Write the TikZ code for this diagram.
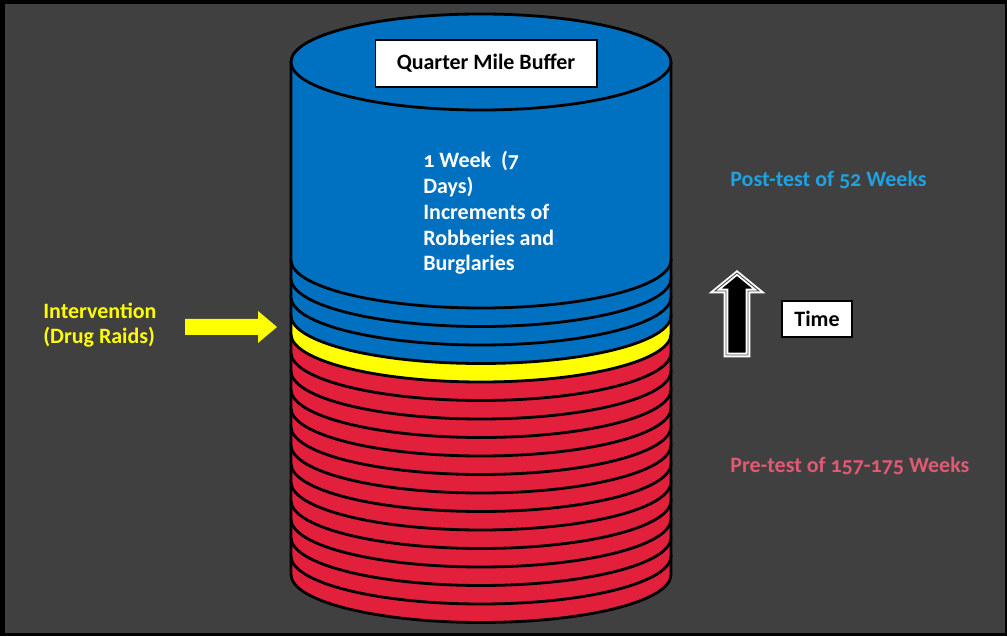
\documentclass[tikz,border=0pt]{standalone}
\usepackage{fontspec}
\setmainfont{Carlito}[Numbers=OldStyle]
\usepackage{tikz}

\definecolor{bggray}{HTML}{404040}
\definecolor{cylblue}{HTML}{0070C0}
\definecolor{cylred}{HTML}{E3203C}
\definecolor{raidyellow}{HTML}{FFFF00}
\definecolor{posttext}{HTML}{1FA2E0}
\definecolor{pretext}{HTML}{E05A73}

% one weekly slab of the stack: #1 = centre of its lower rim, #2 = colour
\newcommand{\slab}[2]{%
  \filldraw[slab, fill=#2] (291,#1+18.5) -- (291,#1)
    arc[start angle=180, end angle=360, x radius=190, y radius=48]
    -- (671,#1+18.5)
    arc[start angle=0, end angle=180, x radius=190, y radius=48] -- cycle;}

\begin{document}
\begin{tikzpicture}[x = 0.02cm, y = 0.02cm,
                    font = \bfseries\fontsize{12.5}{14.7}\selectfont,
                    slab/.style = {draw = black, line width = 1.6pt, line join = round},
                    labelbox/.style = {draw = black, fill = white, text = black, inner sep = 0pt, line width = 0.6pt}]
      % frame
      \fill[black] (0, 0) rectangle (1007, 636);
      \fill[bggray] (5, 3) rectangle (1005, 632);

      % pre-test weeks
      \foreach \i in {0,...,12}
        \slab{61.5+18.5*\i}{cylred};
      % intervention week
      \slab{302}{raidyellow}
      % post-test weeks
      \foreach \i in {14,...,16}
        \slab{61.5+18.5*\i}{cylblue};

      % top of the buffer
      \filldraw[slab, fill = cylblue] (291, 574) -- (291, 376)
        arc[start angle=180, end angle=360, x radius=190, y radius=48] -- (671, 574) -- cycle;
      \filldraw[slab, fill = cylblue] (481, 574) ellipse [x radius=190, y radius=48];

      \node [labelbox, minimum width = 4.44cm, minimum height = 0.94cm] (buffer) at (486, 572.5) {Quarter Mile Buffer};
      \node [text = white, align = left, anchor = north west, inner sep = 0pt] (unit) at (423, 485)
            {1 Week\ \ (7\\Days)\\Increments of\\Robberies and\\Burglaries};

      \node [text = posttext, anchor = west, inner sep = 0pt] (post) at (730, 456) {Post-test of 52 Weeks};
      \node [text = pretext, anchor = west, inner sep = 0pt] (pre) at (730, 170) {Pre-test of 157-175 Weeks};

      \node [text = raidyellow, align = left, anchor = west, inner sep = 0pt,
             font = \bfseries\fontsize{12.5}{14.2}\selectfont] (raids) at (43, 311) {Intervention\\(Drug Raids)};
      \fill[raidyellow] (185, 301) -- (258, 301) -- (258, 293) -- (277, 309)
                        -- (258, 325) -- (258, 317) -- (185, 317) -- cycle;

      \draw[white, line width = 2.6pt, fill = black] (737, 363) -- (759, 345) -- (748, 345) -- (748, 281)
                        -- (726, 281) -- (726, 345) -- (715, 345) -- cycle;
      \draw[black!70, line width = 0.5pt] (737, 363) -- (759, 345) -- (748, 345) -- (748, 281)
                        -- (726, 281) -- (726, 345) -- (715, 345) -- cycle;
      \node [labelbox, minimum width = 1.4cm, minimum height = 0.72cm] (time) at (817, 317) {Time};
\end{tikzpicture}
\end{document}
